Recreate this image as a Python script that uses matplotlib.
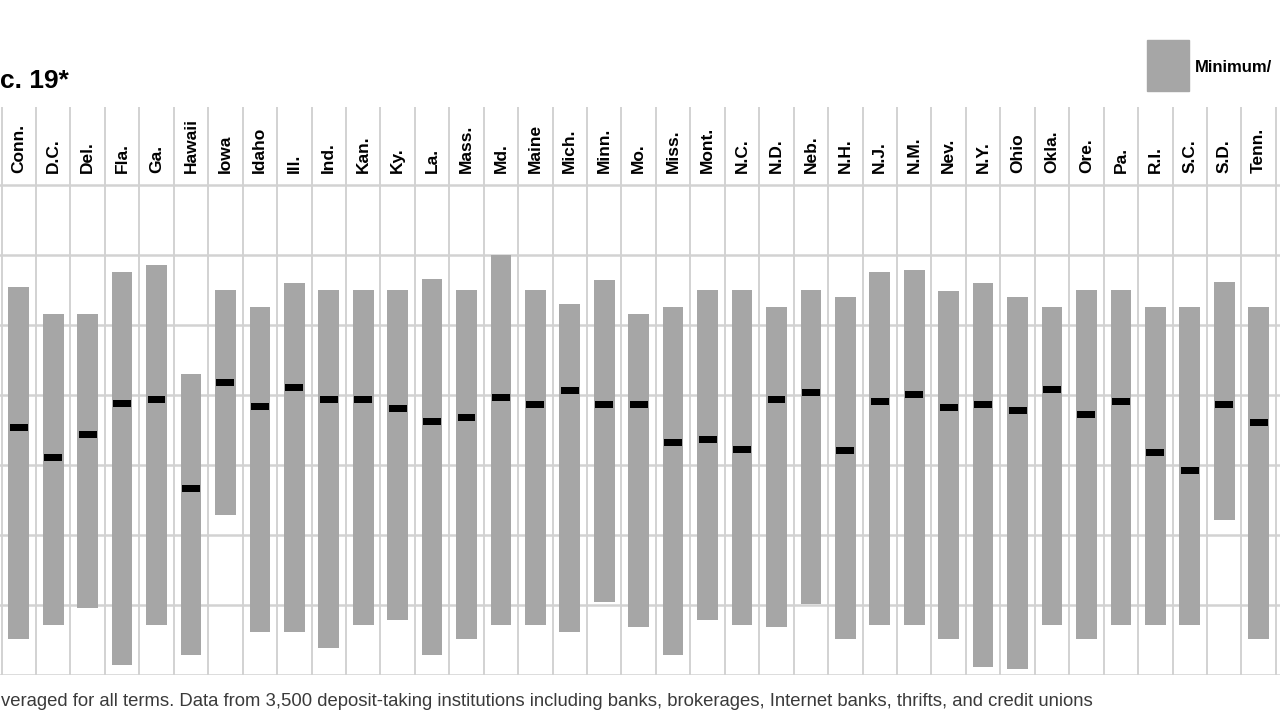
import numpy as np
import matplotlib
matplotlib.use("Agg")
import matplotlib.pyplot as plt


states = ['Conn.', 'D.C.', 'Del.', 'Fla.', 'Ga.', 'Hawaii', 'Iowa', 'Idaho', 'Ill.', 'Ind.',
          'Kan.', 'Ky.', 'La.', 'Mass.', 'Md.', 'Maine', 'Mich.', 'Minn.', 'Mo.', 'Miss.',
          'Mont.', 'N.C.', 'N.D.', 'Neb.', 'N.H.', 'N.J.', 'N.M.', 'Nev.', 'N.Y.', 'Ohio',
          'Okla.', 'Ore.', 'Pa.', 'R.I.', 'S.C.', 'S.D.', 'Tenn.']

max_rate = [2.77, 2.58, 2.58, 2.88, 2.93, 2.15, 2.75, 2.63, 2.80, 2.75,
            2.75, 2.75, 2.83, 2.75, 3.00, 2.75, 2.65, 2.82, 2.58, 2.63,
            2.75, 2.75, 2.63, 2.75, 2.70, 2.88, 2.89, 2.74, 2.80, 2.70,
            2.63, 2.75, 2.75, 2.63, 2.63, 2.81, 2.63]

min_rate = [0.26, 0.36, 0.48, 0.07, 0.36, 0.14, 1.14, 0.31, 0.31, 0.19,
            0.36, 0.39, 0.14, 0.26, 0.36, 0.36, 0.31, 0.52, 0.34, 0.14,
            0.39, 0.36, 0.34, 0.51, 0.26, 0.36, 0.36, 0.26, 0.06, 0.04,
            0.36, 0.26, 0.36, 0.36, 0.36, 1.11, 0.26]

avg_rate = [1.77, 1.55, 1.72, 1.94, 1.97, 1.33, 2.09, 1.92, 2.05, 1.97,
            1.97, 1.90, 1.81, 1.84, 1.98, 1.93, 2.03, 1.93, 1.93, 1.66,
            1.68, 1.61, 1.97, 2.02, 1.60, 1.95, 2.00, 1.91, 1.93, 1.89,
            2.04, 1.86, 1.95, 1.59, 1.46, 1.93, 1.80]

grid_vals = [0.0, 0.5, 1.0, 1.5, 2.0, 2.5, 3.0, 3.5]

BAR_GRAY = '#a6a6a6'
LINE_GRAY = '#d2d2d2'
FONT = ['Liberation Sans', 'DejaVu Sans']

fig = plt.figure(figsize=(12.8, 7.2), dpi=100)
ax = fig.add_axes([0, 45 / 720, 1, (675 - 107) / 720])
ax.set_xlim(-0.545, 36.62)
ax.set_ylim(0, 4.057)
ax.axis('off')

x = np.arange(len(states))
lo = np.array(min_rate)
hi = np.array(max_rate)
avg = np.array(avg_rate)

for g in grid_vals:
    ax.axhline(g, color=LINE_GRAY, lw=1.8, zorder=0)
ax.vlines(np.arange(-0.5, len(states) + 1), 0, 4.057, color=LINE_GRAY, lw=1.4, zorder=0)

ax.bar(x, hi - lo, bottom=lo, width=0.6, color=BAR_GRAY, zorder=2)
ax.bar(x, 0.05, bottom=avg - 0.025, width=0.52, color='black', zorder=3)

for xi, name in zip(x, states):
    ax.text(xi, 3.586, name, rotation=90, ha='center', va='bottom',
            fontsize=12.5, fontweight='bold', family=FONT, color='black')

# title, legend and note (the frame cuts the rest away)
fig.text(0, 1 - 88 / 720, 'c. 19*', ha='left', va='baseline',
         fontsize=19, fontweight='bold', family=FONT)
fig.add_artist(plt.Rectangle((1147 / 1280, 1 - 91 / 720), 42 / 1280, 51 / 720,
                             transform=fig.transFigure, color=BAR_GRAY))
fig.text(1195 / 1280, 1 - 67 / 720, 'Minimum/', ha='left', va='center',
         fontsize=12, fontweight='bold', family=FONT)
fig.text(0.001, 1 - 702 / 720,
         'veraged for all terms. Data from 3,500 deposit-taking institutions including banks, '
         'brokerages, Internet banks, thrifts, and credit unions',
         ha='left', va='center', fontsize=13.3, family=FONT, color='#3a3a3a')

fig.savefig('out.png', dpi=100, facecolor='white')
